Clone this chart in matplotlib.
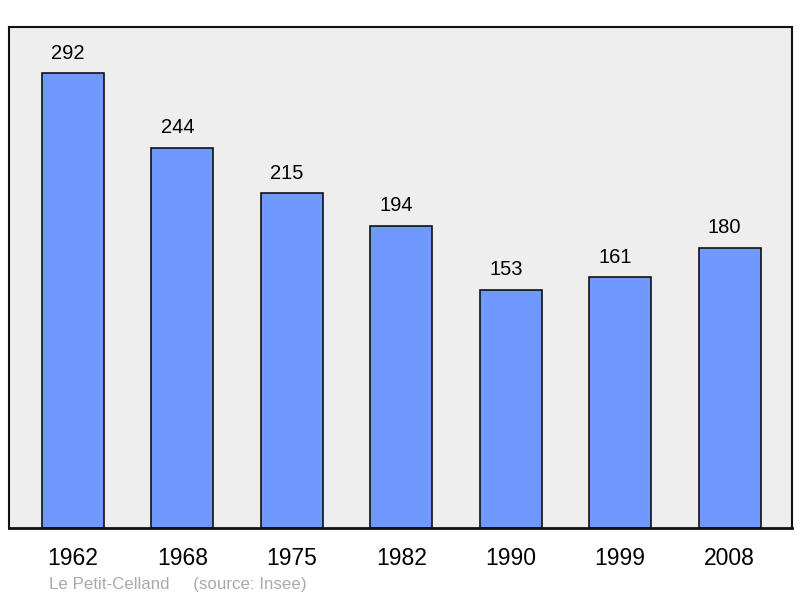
import matplotlib.pyplot as plt

plt.rcParams['font.family'] = ['Liberation Sans', 'DejaVu Sans']

years = ["1962", "1968", "1975", "1982", "1990", "1999", "2008"]
population = [292, 244, 215, 194, 153, 161, 180]

fig = plt.figure(figsize=(8, 5.98), dpi=100)
ax = fig.add_axes([9 / 800, 70 / 598, 783 / 800, 501 / 598])
ax.set_facecolor("#eeeeee")

x = range(len(years))
bars = ax.bar(x, population, width=0.567, color="#7099ff", edgecolor="#111111", linewidth=1.2)

# etiquettes un peu décalées à gauche comme sur l'original
for xi, v in zip(x, population):
    ax.annotate(str(v), (xi, v), xytext=(-3.5, 7.5), textcoords="offset points",
                ha="center", va="bottom", fontsize=14.5)

ax.set_xlim(-0.585, 6.571)
ax.set_ylim(0, 321.5)
ax.set_xticks(list(x))
ax.set_xticklabels(years, fontsize=16.5)
ax.tick_params(axis="x", length=0, pad=14)
ax.set_yticks([])
for s in ax.spines.values():
    s.set_linewidth(1.5)
    s.set_color("#111111")
ax.spines["bottom"].set_linewidth(2)

fig.text(49 / 800, 1 - 584 / 598, "Le Petit-Celland     (source: Insee)",
         fontsize=12.2, color="#aaaaaa", va="center", ha="left")

fig.savefig("out.png", dpi=100)
